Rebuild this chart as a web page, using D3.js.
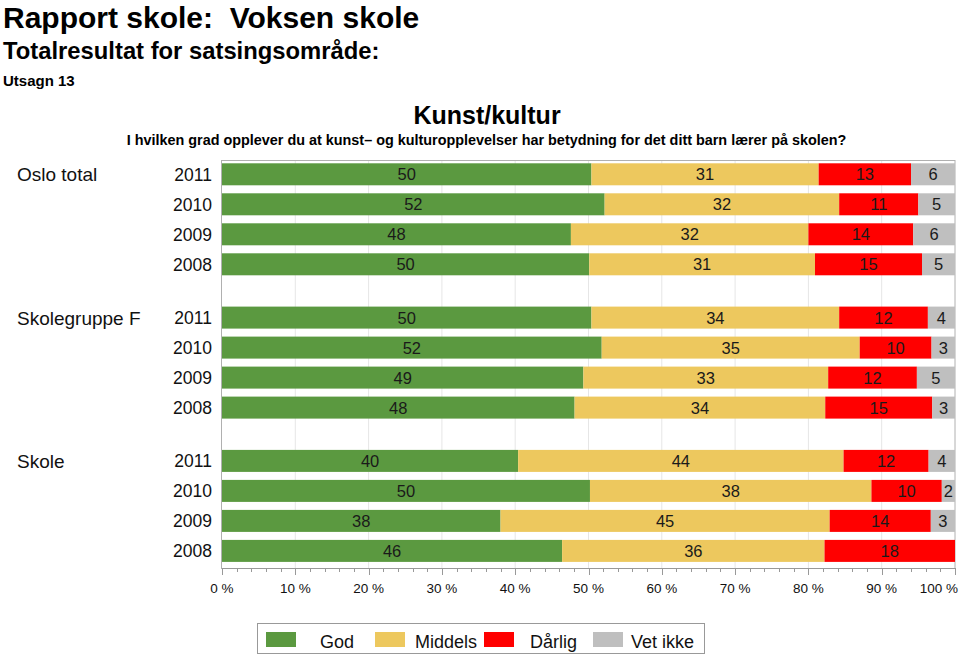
<!DOCTYPE html>
<html>
<head>
<meta charset="utf-8">
<script src="https://cdn.jsdelivr.net/npm/d3@7"></script>
<style>
  body { margin: 0; background: #fff; }
  svg text { font-family: "Liberation Sans", Arial, Helvetica, sans-serif; white-space: pre; }
</style>
</head>
<body>
<div id="chart"></div>
<script>
// groups and years (rows are group x year, top to bottom)
const groups = ["Oslo total", "Skolegruppe F", "Skole"]
const years = ["2011", "2010", "2009", "2008"]
const categories = ["God", "Middels", "Dårlig", "Vet ikke"]
const catColors = ["#5b9940", "#edc85e", "#ff0000", "#bfbfbf"]

// percent values, same row order as groups x years
const god     = [50.4, 52.2, 47.6, 50.1,  50.4, 51.8, 49.3, 48.1,  40.4, 50.2, 38.0, 46.4]
const middels = [31.0, 32.0, 32.4, 30.8,  33.8, 35.2, 33.4, 34.2,  44.4, 38.4, 44.9, 35.8]
const darlig  = [12.6, 10.8, 14.3, 14.6,  12.1,  9.8, 12.1, 14.6,  11.6,  9.6, 13.8, 17.8]
const vetIkke = [ 6.0,  5.0,  5.7,  4.5,   3.7,  3.2,  5.2,  3.1,   3.6,  1.8,  3.3,  0.0]

const xTicks = [0, 10, 20, 30, 40, 50, 60, 70, 80, 90, 100]

drawChart()

function drawChart() {
    var width = 960, height = 656
    var plot = { left: 222, right: 955, top: 160, bottom: 568 }

    var svg = d3.select("#chart")
        .append("svg")
        .attr("width", width)
        .attr("height", height)

    // titles
    svg.append("text").attr("x", 3).attr("y", 27.5)
        .style("font-size", "30px").style("font-weight", "bold")
        .text("Rapport skole:  Voksen skole")
    svg.append("text").attr("x", 3).attr("y", 59)
        .style("font-size", "23.8px").style("font-weight", "bold")
        .text("Totalresultat for satsingsområde:")
    svg.append("text").attr("x", 3).attr("y", 86)
        .style("font-size", "15px").style("font-weight", "bold")
        .text("Utsagn 13")
    svg.append("text").attr("x", 487).attr("y", 124)
        .attr("text-anchor", "middle")
        .style("font-size", "25px").style("font-weight", "bold")
        .text("Kunst/kultur")
    svg.append("text").attr("x", 486.5).attr("y", 145)
        .attr("text-anchor", "middle")
        .style("font-size", "14.4px").style("font-weight", "bold")
        .text("I hvilken grad opplever du at kunst\u2013 og kulturopplevelser har betydning for det ditt barn lærer på skolen?")

    // scales
    var x = d3.scaleLinear().domain([0, 100]).range([plot.left, plot.right])
    var yGroup = d3.scaleBand().domain(groups).range([163.3, 163.3 + 3 * 143.3]).paddingInner(0)
    var yYear = d3.scaleBand().domain(years).range([0, 112]).paddingInner(0.2667).paddingOuter(0)

    // grid lines
    svg.append("g").selectAll("line")
        .data(xTicks.slice(1, -1))
        .enter().append("line")
        .attr("x1", d => x(d)).attr("x2", d => x(d))
        .attr("y1", plot.top).attr("y2", plot.bottom)
        .attr("stroke", "#e6e6e6").attr("stroke-width", 1)

    // frame
    svg.append("rect")
        .attr("x", plot.left - 0.5).attr("y", plot.top + 0.5)
        .attr("width", plot.right - plot.left + 0.5)
        .attr("height", plot.bottom - plot.top)
        .attr("fill", "none").attr("stroke", "#b0b0b0").attr("stroke-width", 1)

    // rows
    var rows = []
    groups.forEach(function (g, gi) {
        years.forEach(function (yr, yi) {
            var i = gi * years.length + yi
            var vals = [god[i], middels[i], darlig[i], vetIkke[i]]
            var start = 0
            var segs = vals.map(function (v, ci) {
                var s = { cat: ci, start: start, value: v }
                start += v
                return s
            })
            rows.push({ group: g, year: yr, segs: segs })
        })
    })

    var rowG = svg.selectAll("g.row")
        .data(rows)
        .enter().append("g")
        .attr("class", "row")
        .attr("transform", d => "translate(0," + (yGroup(d.group) + yYear(d.year)) + ")")

    rowG.selectAll("rect")
        .data(d => d.segs.filter(s => s.value > 0))
        .enter().append("rect")
        .attr("x", s => x(s.start))
        .attr("width", s => x(s.start + s.value) - x(s.start))
        .attr("y", 0)
        .attr("height", yYear.bandwidth())
        .attr("fill", s => catColors[s.cat])

    rowG.selectAll("text.val")
        .data(d => d.segs.filter(s => s.value > 0))
        .enter().append("text")
        .attr("class", "val")
        .attr("x", s => x(s.start + s.value / 2))
        .attr("y", yYear.bandwidth() / 2 + 6)
        .attr("text-anchor", "middle")
        .style("font-size", "16.5px")
        .attr("fill", "#1a1a1a")
        .text(s => Math.round(s.value))

    // year labels
    rowG.append("text")
        .attr("x", 212)
        .attr("y", yYear.bandwidth() / 2 + 6.5)
        .attr("text-anchor", "end")
        .style("font-size", "17.5px")
        .attr("fill", "#111")
        .text(d => d.year)

    // group labels
    svg.selectAll("text.grp")
        .data(groups)
        .enter().append("text")
        .attr("class", "grp")
        .attr("x", 17)
        .attr("y", d => yGroup(d) + yYear("2011") + yYear.bandwidth() / 2 + 7)
        .style("font-size", "19px")
        .attr("fill", "#111")
        .text(d => d)

    // bottom axis
    var axis = svg.append("g")
    axis.append("line")
        .attr("x1", plot.left).attr("x2", plot.right)
        .attr("y1", plot.bottom + 0.5).attr("y2", plot.bottom + 0.5)
        .attr("stroke", "#999")
    axis.selectAll("line.minor")
        .data(d3.range(0, 101, 2))
        .enter().append("line")
        .attr("x1", d => Math.round(x(d)) + 0.5).attr("x2", d => Math.round(x(d)) + 0.5)
        .attr("y1", plot.bottom)
        .attr("y2", d => plot.bottom + (d % 10 === 0 ? 7 : 4))
        .attr("stroke", "#999")
    axis.selectAll("text")
        .data(xTicks)
        .enter().append("text")
        .attr("x", d => d === 100 ? x(d) + 3 : x(d))
        .attr("y", 593)
        .attr("text-anchor", d => d === 100 ? "end" : "middle")
        .style("font-size", "13.5px")
        .attr("fill", "#111")
        .text(d => d + " %")

    // legend
    var legend = svg.append("g")
    legend.append("rect")
        .attr("x", 257.5).attr("y", 623.5)
        .attr("width", 447).attr("height", 30)
        .attr("fill", "#fff").attr("stroke", "#999")
    var swatchX = [266, 375, 484, 593]
    var textX = [320, 415, 530, 631]
    legend.selectAll("rect.sw")
        .data(categories)
        .enter().append("rect")
        .attr("class", "sw")
        .attr("x", (d, i) => swatchX[i]).attr("y", 632)
        .attr("width", 30).attr("height", 15)
        .attr("fill", (d, i) => catColors[i])
    legend.selectAll("text")
        .data(categories)
        .enter().append("text")
        .attr("x", (d, i) => textX[i]).attr("y", 648)
        .style("font-size", "18px")
        .attr("fill", "#111")
        .text(d => d)
}
</script>
</body>
</html>
